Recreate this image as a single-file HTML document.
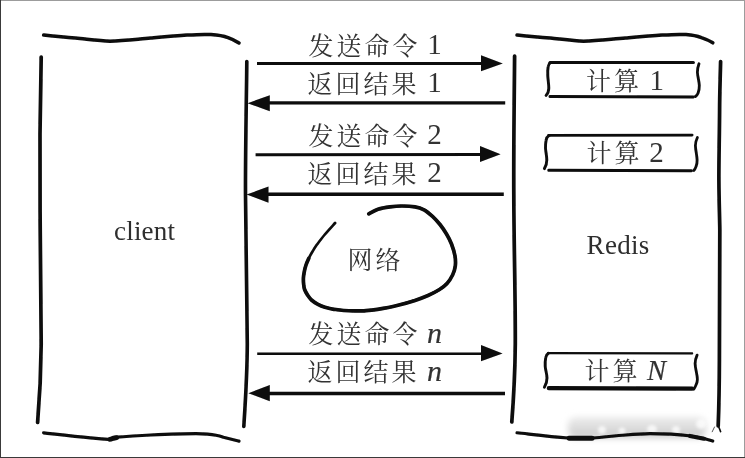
<!DOCTYPE html>
<html lang="zh-CN">
<head>
<meta charset="utf-8">
<title>client - Redis</title>
<style>
html,body{margin:0;padding:0;background:#fff;}
body{width:745px;height:458px;overflow:hidden;position:relative;}
svg{position:absolute;left:0;top:0;display:block;}
.cjk{font-family:"Liberation Serif","Noto Serif CJK SC",serif;font-weight:400;font-size:25px;letter-spacing:3px;fill:#333;}
.lat{font-family:"Liberation Serif","Noto Serif CJK SC",serif;font-size:29px;fill:#333;}
.it{font-style:italic;font-size:30px;stroke:#333;stroke-width:0.2px;}
.big{font-family:"Liberation Serif","Noto Serif CJK SC",serif;font-size:27px;fill:#2e2e2e;}
.ink{fill:none;stroke:#0a0a0a;stroke-linecap:round;stroke-linejoin:round;}
</style>
</head>
<body>
<svg width="745" height="458" viewBox="0 0 745 458">
  <defs>
    <linearGradient id="sm" x1="0" y1="0" x2="0" y2="1"><stop offset="0" stop-color="#ececec"/><stop offset="0.55" stop-color="#dcdcdc"/><stop offset="1" stop-color="#c6c6c6"/></linearGradient>
    <filter id="blur" x="-10%" y="-50%" width="120%" height="200%"><feGaussianBlur stdDeviation="3"/></filter>
    <filter id="blur2" x="-50%" y="-50%" width="200%" height="200%"><feGaussianBlur stdDeviation="1.6"/></filter>
    <filter id="soft" x="-5%" y="-5%" width="110%" height="110%"><feGaussianBlur stdDeviation="0.5"/></filter>
    <filter id="softt" x="-5%" y="-5%" width="110%" height="110%"><feGaussianBlur stdDeviation="0.4"/></filter>
  </defs>
  <rect x="0" y="0" width="745" height="458" fill="#ffffff"/>
  <rect x="0" y="0" width="745" height="1" fill="#9c9c9c"/>
  <rect x="744" y="0" width="1" height="458" fill="#9c9c9c"/>
  <rect x="0" y="0" width="1" height="458" fill="#3a3a3a"/>
  <rect x="0" y="457" width="745" height="1" fill="#3a3a3a"/>

  <!-- watermark smudge -->
  <g filter="url(#blur)">
    <rect x="568" y="417" width="138" height="21" rx="8" fill="url(#sm)"/>
  </g>
  <g filter="url(#blur2)" fill="#ffffff" opacity="0.75">
    <ellipse cx="602" cy="430" rx="4" ry="4"/>
    <ellipse cx="622" cy="431" rx="3.5" ry="3.5"/>
    <ellipse cx="652" cy="429" rx="5" ry="4"/>
    <ellipse cx="676" cy="430" rx="4" ry="4"/>
    <ellipse cx="701" cy="424" rx="5" ry="5"/>
  </g>

  <g class="ink" filter="url(#soft)">
    <!-- client box -->
    <path d="M43.6 35.1 C54 36.2 65 37.3 75.3 38.1 C88 39.3 100 40.9 110 41.2 C123 40.8 137 39.2 150.8 38.1 C163 37 176 35.8 187 35.1 C196 34.5 204 34.1 211 34.6 C218 35.1 223.5 36 228 37.6 C232.5 39.1 236 41 239 43" stroke-width="3.5"/>
    <path d="M41.2 57 C41 85 40.2 110 40 134 C39.8 165 39.9 195 40.1 212 C40.4 260 41 310 41.2 344 C41 375 39.5 400 37.6 422.5" stroke-width="3.7"/>
    <path d="M246.8 61.5 C246.5 100 245.3 150 245.5 195 C245.8 250 247 300 247.3 344 C247.2 375 245.5 400 243.8 426.5" stroke-width="3.6"/>
    <path d="M43.6 432.8 C58 434.4 75 436.4 90.4 437.8 C98 438.6 105 439.2 111.6 439.6" stroke-width="3.2"/>
    <path d="M113 437.4 C126 436.4 138 435.6 150.8 435 C166 434.3 182 433.6 196 433.6 C204 433.7 211 434.2 216 435.2 C219 435.8 221 436.4 223.4 437.2 C229 438.6 234 439.8 239 441.1" stroke-width="3.2"/>
    <path d="M110 439.3 L116.6 437.6" stroke-width="4.8"/>

    <!-- redis box -->
    <path d="M517 35.1 C528 36.2 540 37.3 550.3 38.1 C562 39.3 574 40.9 583.6 41.2 C597 40.8 611 39.2 625.8 38.1 C638 37 651 35.8 662 35.1 C671 34.5 679 34.1 686 34.6 C692 35.1 697 36 701.4 37.6 C706 39.1 709.6 40.8 712.8 42.8" stroke-width="3.5"/>
    <path d="M514.6 56 C514.3 100 513.5 150 513.8 195 C514 250 515.5 300 515.3 344 C515 375 513.5 400 511.8 422" stroke-width="3.7"/>
    <path d="M720.6 61.5 C720.2 80 719.6 95 719.6 110 C719.4 140 718.8 160 718.9 180 C719 200 719.6 215 719.8 230 C720 280 719.5 330 719.4 360 C719.3 390 718.8 410 718.2 426" stroke-width="3.7"/>
    <path d="M718.6 426.5 L720.6 431.6" stroke-width="1.6"/>
    <path d="M517 432.8 C532 434.4 550 436.6 568 438 C576 438.4 585 438.4 592.6 438.1 C604 437.2 615 435.8 625.8 435 C634 434.3 642 433.7 650 433.6 C664 433.7 678 434.4 689 435.7 C695 436.6 700 437.6 704 438.6 C707 439.4 710 440.2 712.8 441.1" stroke-width="3.1"/>
    <path d="M569 438.3 L592 438.2" stroke-width="5"/>
    <path d="M690 436 L704 438.7" stroke-width="4.2"/>
    <path d="M714.5 427 L712.2 431.8" stroke-width="1" stroke="#555"/>

    <!-- calc box 1 -->
    <path d="M550 62.5 L693.4 62.5" stroke-width="3"/>
    <path d="M550 96.6 L693.4 96.9" stroke-width="3"/>
    <path d="M550.6 62.5 C549 63.4 548.3 65 548.1 67 C547.6 70 547.6 73 547.8 76.2 C548 80 548.8 84 548.8 88 C548.8 91 547.8 93.5 546.1 95.4" stroke-width="2.9"/>
    <path d="M699 63.8 C698 66.5 697.3 69.5 697.4 72.3 C697.6 77 699.2 81 699.3 85.4 C699.4 88.4 698.9 91 698 93.3 C697.4 94.8 696.5 95.8 695.4 96.5" stroke-width="2.8"/>

    <!-- calc box 2 -->
    <path d="M548.6 135.3 L692.1 135.1" stroke-width="2.8"/>
    <path d="M548.8 170.3 L691.5 170.8" stroke-width="3"/>
    <path d="M549 135.4 C547.3 136.4 546.4 138 546.1 140.3 C545.6 143 545.4 145.5 545.5 148.2 C545.7 152 546.8 156 546.8 160 C546.8 163.5 545.8 166.5 544.4 168.6" stroke-width="2.9"/>
    <path d="M697.4 137.5 C696.2 140 695.4 143 695.4 145.6 C695.5 150.5 697 155 697.1 160 C697.2 162.5 696.8 164.8 696 166.6 C695.4 168.3 694.7 169.6 693.8 170.5" stroke-width="2.8"/>

    <!-- calc box N -->
    <path d="M548 353.1 L692.1 353.4" stroke-width="2.3"/>
    <path d="M548.8 388.2 L692.1 388.7" stroke-width="4.2"/>
    <path d="M548.4 353.3 C546.8 354.3 546 355.6 545.7 357.7 C545.2 360.5 545.1 363.5 545.2 366.2 C545.4 370 547 374 547 378 C547 381.8 545.8 385 544.4 387.2" stroke-width="2.9"/>
    <path d="M697.1 355.1 C695.8 358 695.1 361 695.1 363.6 C695.2 369 697.3 374 697.4 379.3 C697.4 381.8 696.6 384.2 695.6 385.9 C695 387.2 694.5 388.3 693.8 389.1" stroke-width="2.8"/>

    <!-- network blob -->
    <path d="M368.8 213.8 C370.3 213.0 374.5 210.4 378.0 209.2 C381.5 208.0 386.0 207.3 390.0 206.8 C394.0 206.3 397.8 206.0 402.0 206.0 C406.2 206.0 411.3 206.2 415.0 206.8 C418.7 207.4 421.1 208.2 424.0 209.8 C426.9 211.4 429.8 213.9 432.5 216.3 C435.2 218.8 437.7 221.6 440.0 224.5 C442.3 227.4 444.6 230.8 446.5 234.0 C448.4 237.2 450.1 240.3 451.5 244.0 C452.9 247.7 454.4 252.3 455.0 256.0 C455.6 259.7 455.7 262.8 455.3 266.0 C454.9 269.2 454.0 272.1 452.6 275.0 C451.2 277.9 449.2 281.1 447.0 283.5 C444.8 285.9 442.7 287.5 439.5 289.5 C436.3 291.5 432.1 293.7 428.0 295.5 C423.9 297.3 420.2 298.7 415.0 300.4 C409.8 302.1 403.2 304.0 397.0 305.5 C390.8 307.0 382.7 308.5 377.5 309.4 C372.3 310.2 369.8 310.4 366.0 310.6 C362.2 310.9 358.2 310.9 354.5 310.9 C350.8 310.9 347.4 310.8 344.0 310.5 C340.6 310.2 337.1 309.9 333.9 309.3 C330.7 308.8 327.7 308.0 325.0 307.2 C322.3 306.4 320.1 305.5 317.9 304.3 C315.6 303.1 313.2 301.5 311.5 300.0 C309.8 298.5 308.8 296.9 307.6 295.1 C306.5 293.4 305.3 291.4 304.6 289.5 C303.9 287.6 303.8 285.6 303.6 283.7 C303.4 281.8 303.3 279.9 303.4 278.0 C303.5 276.1 303.8 274.4 304.2 272.2 C304.6 270.0 305.2 267.3 306.0 265.0 C306.8 262.7 307.6 260.8 308.7 258.5 C309.8 256.2 311.1 253.8 312.5 251.5 C313.9 249.2 314.8 247.6 316.8 244.8 C318.9 242.0 321.8 238.1 324.8 234.5 C327.9 230.9 333.4 224.9 335.1 223.0" stroke-width="2.7"/>
    <path d="M368.8 213.8 C370.3 213.0 374.5 210.4 378.0 209.2 C381.5 208.0 386.0 207.3 390.0 206.8 C394.0 206.3 397.8 206.0 402.0 206.0 C406.2 206.0 411.3 206.2 415.0 206.8 C418.7 207.4 421.1 208.2 424.0 209.8 C426.9 211.4 429.8 213.9 432.5 216.3 C435.2 218.8 437.7 221.6 440.0 224.5 C442.3 227.4 444.6 230.8 446.5 234.0 C448.4 237.2 450.1 240.3 451.5 244.0 C452.9 247.7 454.4 252.3 455.0 256.0 C455.6 259.7 455.7 262.8 455.3 266.0 C454.9 269.2 454.0 272.1 452.6 275.0 C451.2 277.9 449.2 281.1 447.0 283.5 C444.8 285.9 442.7 287.5 439.5 289.5 C436.3 291.5 432.1 293.7 428.0 295.5 C423.9 297.3 420.2 298.7 415.0 300.4 C409.8 302.1 403.2 304.0 397.0 305.5 C390.8 307.0 382.7 308.5 377.5 309.4 C372.3 310.2 369.8 310.4 366.0 310.6 C362.2 310.9 358.2 310.9 354.5 310.9 C350.8 310.9 347.4 310.8 344.0 310.5 C340.6 310.2 337.1 309.9 333.9 309.3 C330.7 308.8 327.7 308.0 325.0 307.2 C322.3 306.4 320.1 305.5 317.9 304.3 C315.6 303.1 313.2 301.5 311.5 300.0 C309.8 298.5 308.8 296.9 307.6 295.1 C306.5 293.4 305.3 291.4 304.6 289.5 C303.9 287.6 303.8 285.6 303.6 283.7 C303.4 281.8 303.3 279.9 303.4 278.0 C303.5 276.1 303.8 274.4 304.2 272.2 C304.6 270.0 305.2 267.3 306.0 265.0 C306.8 262.7 308.2 259.6 308.7 258.5" stroke-width="3.7"/>
  </g>

  <!-- arrows -->
  <g stroke="#0a0a0a" fill="#0a0a0a" filter="url(#soft)">
    <line x1="257" y1="63.6" x2="484" y2="63.6" stroke-width="3"/>
    <polygon points="481,55.3 502.8,63.4 481,71.2" stroke="none"/>
    <line x1="505.2" y1="102.9" x2="266" y2="102.9" stroke-width="3.3"/>
    <polygon points="269.8,95.2 247.6,103.2 269.8,111.2" stroke="none"/>

    <line x1="255.6" y1="154.8" x2="483" y2="154.6" stroke-width="3"/>
    <polygon points="480,146 500.6,154.3 480,162" stroke="none"/>
    <line x1="503.8" y1="194.3" x2="265" y2="194.3" stroke-width="3.4"/>
    <polygon points="268.5,186.5 246.6,194.6 268.5,202.8" stroke="none"/>

    <line x1="257.2" y1="353.7" x2="484" y2="353.7" stroke-width="2.4"/>
    <polygon points="481,345 502.6,353.4 481,361.2" stroke="none"/>
    <line x1="505" y1="393.5" x2="266" y2="393.5" stroke-width="3.3"/>
    <polygon points="269.8,385 248.4,393.2 269.8,401.3" stroke="none"/>
  </g>

  <!-- labels -->
  <g filter="url(#softt)">
    <text class="cjk" x="308.5" y="54.5">发送命令</text><text class="lat" x="427.2" y="54">1</text>
    <text class="cjk" x="307.5" y="92.5">返回结果</text><text class="lat" x="427.2" y="92.2">1</text>
    <text class="cjk" x="308.5" y="144.5">发送命令</text><text class="lat" x="427.3" y="144">2</text>
    <text class="cjk" x="307.5" y="182.6">返回结果</text><text class="lat" x="427.3" y="182.2">2</text>
    <text class="cjk" x="308.5" y="342.5">发送命令</text><text class="lat it" x="427" y="342.6">n</text>
    <text class="cjk" x="307.5" y="381">返回结果</text><text class="lat it" x="427" y="381.2">n</text>

    <text class="cjk" x="347.5" y="269">网络</text>

    <text class="cjk" x="586" y="90">计算</text><text class="lat" x="649.6" y="89.9">1</text>
    <text class="cjk" x="586.5" y="162">计算</text><text class="lat" x="649.3" y="161.8">2</text>
    <text class="cjk" x="584.5" y="380">计算</text><text class="lat it" style="font-size:28.5px;stroke-width:0.15px" x="647" y="380">N</text>

    <text class="big" style="letter-spacing:0.2px" x="114" y="239.5">client</text>
    <text class="big" style="letter-spacing:0.3px" x="586.6" y="253.8">Redis</text>
  </g>
</svg>
</body>
</html>
